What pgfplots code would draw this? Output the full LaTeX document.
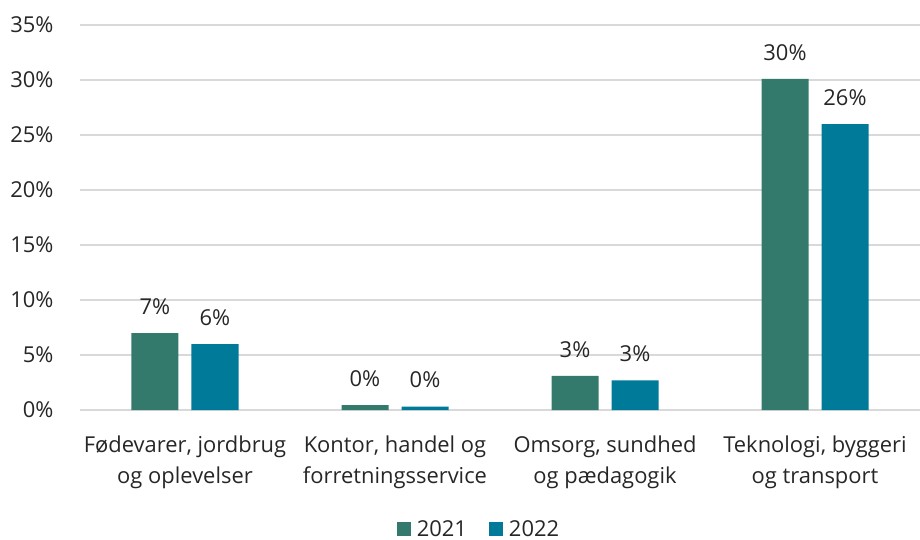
\documentclass[border=0pt]{standalone}
\usepackage{pgfplots}
\pgfplotsset{compat=1.18}
\usepackage{fontspec}
\setmainfont{Open Sans}
\definecolor{cA}{RGB}{52,122,108}
\definecolor{cB}{RGB}{0,122,153}
\definecolor{gridc}{RGB}{217,217,217}
\definecolor{txt}{RGB}{38,38,38}
\begin{document}
\begin{tikzpicture}[font=\fontsize{22}{31}\selectfont, text=txt]
\useasboundingbox (-80bp,-130bp) rectangle (840bp,410bp);
\begin{axis}[
    scale only axis, width=840bp, height=385bp,
    at={(0,0)}, anchor=south west,
    ymin=0, ymax=35, ytick={0,5,...,35},
    xmin=-0.5, xmax=3.5, xtick={0,1,2,3},
    xticklabels={{Fødevarer, jordbrug\\og oplevelser},{Kontor, handel og\\forretningsservice},{Omsorg, sundhed\\og pædagogik},{Teknologi, byggeri\\og transport}},
    xticklabel style={align=center, yshift=-18bp},
    yticklabel={\pgfmathprintnumber{\tick}\%},
    yticklabel style={xshift=-23bp},
    /pgf/number format/assume math mode=true,
    axis line style={draw=none},
    tick style={draw=none},
    ymajorgrids, major grid style={gridc, line width=1.5bp},
    ybar=13bp, bar width=47bp,
    nodes near coords={\pgfmathprintnumber[fixed,precision=0]{\pgfplotspointmeta}\%},
    nodes near coords style={text=txt, yshift=15bp},
    legend style={at={(0.475,-0.3377)}, anchor=south, draw=none, fill=none,
        legend columns=-1, inner sep=0pt,
        /tikz/every odd column/.append style={column sep=4bp},
        /tikz/every even column/.append style={column sep=20bp}},
    legend image code/.code={\fill[#1] (0bp,-7bp) rectangle (14bp,7bp);},
]
\addplot[fill=cA, draw=none] coordinates {(0,7.0) (1,0.45) (2,3.1) (3,30.1)};
\addlegendentry{2021}
\addplot[fill=cB, draw=none] coordinates {(0,6.0) (1,0.3) (2,2.7) (3,26.0)};
\addlegendentry{2022}
\end{axis}
\end{tikzpicture}
\end{document}
